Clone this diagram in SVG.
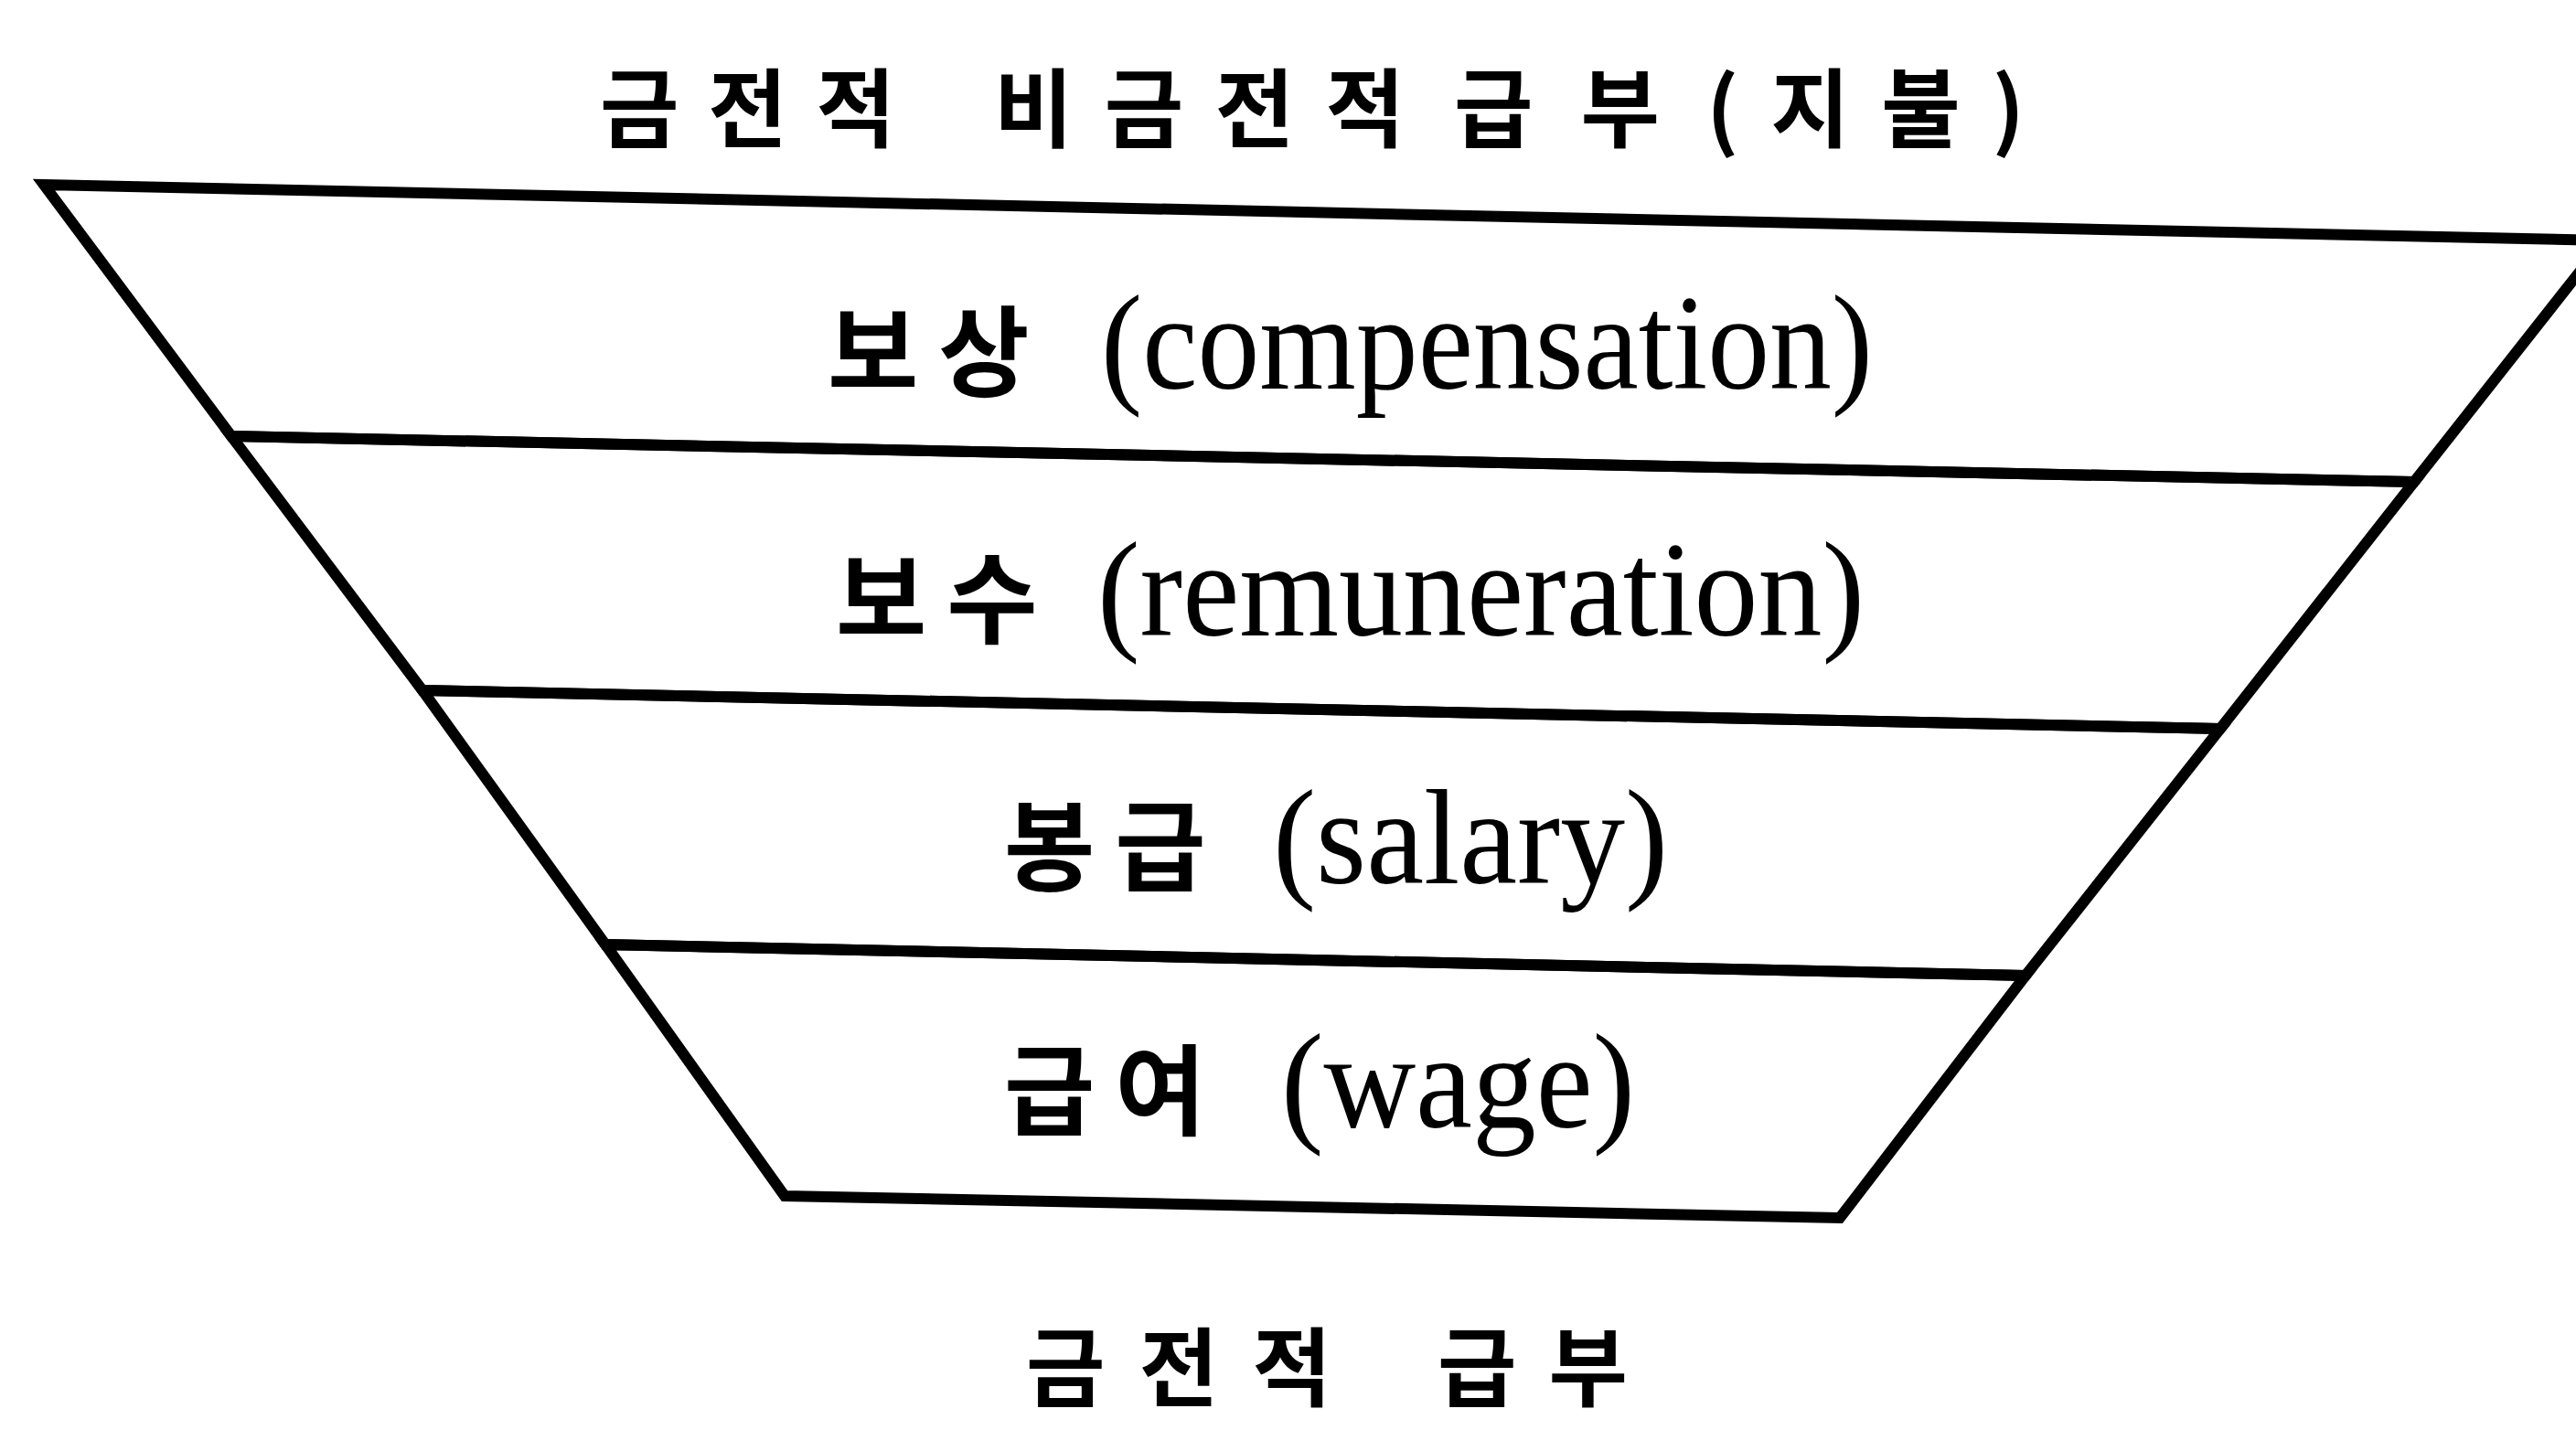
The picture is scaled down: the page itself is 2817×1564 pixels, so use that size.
<svg xmlns="http://www.w3.org/2000/svg" width="2817" height="1564" viewBox="0 0 2817 1564">
  <style>
    .band { fill: none; stroke: #000; stroke-width: 12; stroke-linejoin: miter; }
    .ko { font-family: "Noto Sans CJK KR", "Noto Sans", sans-serif; font-weight: 700; font-size: 94px; fill: #000; }
    .lat { font-family: "Liberation Serif", "Noto Sans CJK KR", serif; fill: #000; }
    .kob { font-family: "Noto Sans CJK KR", sans-serif; font-size: 108px; letter-spacing: 22px; font-weight: 700; }
    .latb { font-family: "Liberation Serif", serif; font-size: 148px; }
  </style>
  <rect x="0" y="0" width="2817" height="1564" fill="#fff"/>

  <g id="title">
    <text class="ko" y="154"><tspan x="656" textLength="323" lengthAdjust="spacing">금전적</tspan> <tspan x="1087" textLength="449" lengthAdjust="spacing">비금전적</tspan> <tspan x="1590" textLength="225" lengthAdjust="spacing">급부</tspan> <tspan x="1866" textLength="348" lengthAdjust="spacing">(지불)</tspan></text>
  </g>

  <g id="band-compensation">
    <polygon class="band" points="48,202 2848,263 2640,527 253,477"/>
    <text class="lat" y="425"><tspan class="kob" x="905">보상 </tspan><tspan class="latb" x="1204" textLength="844" lengthAdjust="spacingAndGlyphs">(compensation)</tspan></text>
  </g>

  <g id="band-remuneration">
    <polygon class="band" points="253,477 2640,527 2428,797 462,755"/>
    <text class="lat" y="695"><tspan class="kob" x="914">보수 </tspan><tspan class="latb" x="1200" textLength="839" lengthAdjust="spacingAndGlyphs">(remuneration)</tspan></text>
  </g>

  <g id="band-salary">
    <polygon class="band" points="462,755 2428,797 2215,1067 662,1033"/>
    <text class="lat" y="966"><tspan class="kob" x="1098">봉급 </tspan><tspan class="latb" x="1392" textLength="432" lengthAdjust="spacingAndGlyphs">(salary)</tspan></text>
  </g>

  <g id="band-wage">
    <polygon class="band" points="662,1033 2215,1067 2012,1332 858,1308"/>
    <text class="lat" y="1233"><tspan class="kob" x="1098">급여 </tspan><tspan class="latb" x="1401" textLength="387" lengthAdjust="spacingAndGlyphs">(wage)</tspan></text>
  </g>

  <g id="bottom-label">
    <text class="ko" y="1531"><tspan x="1122" textLength="334" lengthAdjust="spacing">금전적</tspan> <tspan x="1572" textLength="208" lengthAdjust="spacing">급부</tspan></text>
  </g>
</svg>
